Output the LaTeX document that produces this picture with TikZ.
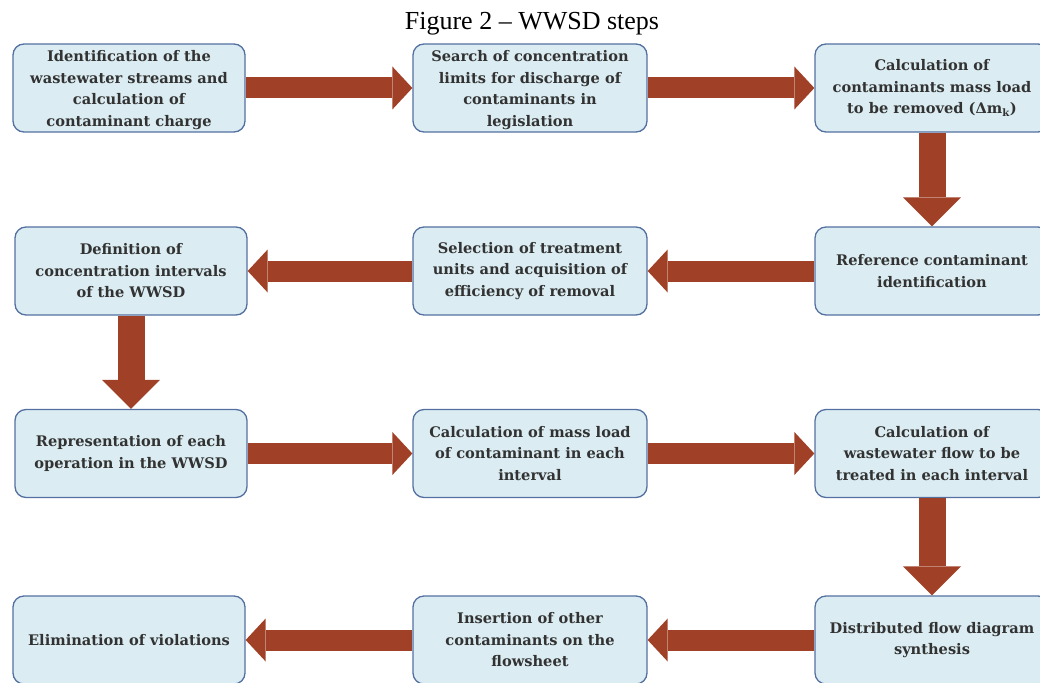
\documentclass[tikz,border=0pt]{standalone}
\usepackage{fontspec}
\setmainfont{Liberation Serif}
\newfontfamily\boxfont{DejaVu Serif}
\usetikzlibrary{arrows.meta}
\definecolor{boxfill}{RGB}{219,237,243}
\definecolor{boxline}{RGB}{84,112,160}
\definecolor{arrowc}{RGB}{160,64,38}
\definecolor{txtc}{RGB}{50,50,50}
\tikzset{
  stepbox/.style={draw=boxline, line width=1.3pt, fill=boxfill, rounded corners=11pt,
    minimum width=232pt, minimum height=88pt, inner sep=0pt, align=center,
    text=txtc, font=\boxfont\bfseries\fontsize{14.6}{21.5}\selectfont},
  harr/.style={draw=arrowc, line width=21pt,
    -{Triangle[width=43pt,length=20pt,line width=0pt]}},
  varr/.style={draw=arrowc, line width=27pt,
    -{Triangle[width=58pt,length=29pt,line width=0pt]}}
}
\begin{document}
\begin{tikzpicture}[x=1pt,y=-1pt]
\useasboundingbox (0,0) rectangle (1040,682);
\node[font=\fontsize{26}{30}\selectfont, anchor=base] (title) at (532,30) {Figure 2 -- WWSD steps};
% row 1
\node[stepbox] (b1) at (129,88) {\strut Identification of the\\wastewater streams and\\calculation of\\contaminant charge};
\node[stepbox, minimum width=234pt] (b2) at (530,88) {\strut Search of concentration\\limits for discharge of\\contaminants in\\legislation};
\node[stepbox, minimum width=234pt] (b3) at (932,88) {Calculation of\\contaminants mass load\\to be removed (Δm\textsubscript{k})};
% row 2
\node[stepbox] (b4) at (131,271) {Definition of\\concentration intervals\\of the WWSD};
\node[stepbox, minimum width=234pt] (b5) at (530,271) {Selection of treatment\\units and acquisition of\\efficiency of removal};
\node[stepbox, minimum width=234pt] (b6) at (932,271) {Reference contaminant\\identification};
% row 3
\node[stepbox] (b7) at (131,453.5) {Representation of each\\operation in the WWSD};
\node[stepbox, minimum width=234pt] (b8) at (530,453.5) {Calculation of mass load\\of contaminant in each\\interval};
\node[stepbox, minimum width=234pt] (b9) at (932,453.5) {Calculation of\\wastewater flow to be\\treated in each interval};
% row 4
\node[stepbox] (b12) at (129,640) {Elimination of violations};
\node[stepbox, minimum width=234pt] (b11) at (530,640) {Insertion of other\\contaminants on the\\flowsheet};
\node[stepbox, minimum width=234pt] (b10) at (932,640) {Distributed flow diagram\\synthesis};
% arrows
\draw[harr] (b1.east) -- (b2.west);
\draw[harr] (b2.east) -- (b3.west);
\draw[varr] (b3.south) -- (b6.north);
\draw[harr] (b6.west) -- (b5.east);
\draw[harr] (b5.west) -- (b4.east);
\draw[varr] (b4.south) -- (b7.north);
\draw[harr] (b7.east) -- (b8.west);
\draw[harr] (b8.east) -- (b9.west);
\draw[varr] (b9.south) -- (b10.north);
\draw[harr] (b10.west) -- (b11.east);
\draw[harr] (b11.west) -- (b12.east);
\end{tikzpicture}
\end{document}
